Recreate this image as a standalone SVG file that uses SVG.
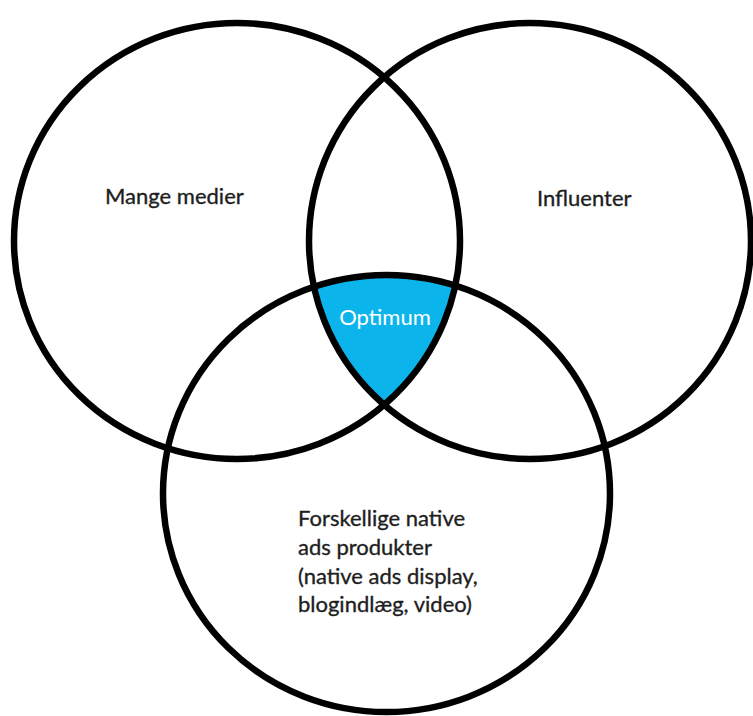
<svg xmlns="http://www.w3.org/2000/svg" width="753" height="716" viewBox="0 0 753 716">
<style>
.c{fill:none;stroke:#000;stroke-width:6.5}
.t{font-family:Lato,"Open Sans","Liberation Sans",sans-serif;font-size:22px;fill:#1e1e1e;stroke:#1e1e1e;stroke-width:0.35}
.w{font-family:Lato,"Open Sans","Liberation Sans",sans-serif;font-size:22px;fill:#fff}
</style>
<defs>
<clipPath id="cl"><ellipse cx="237" cy="241" rx="223" ry="218"/></clipPath>
<clipPath id="cr"><ellipse cx="530" cy="241" rx="221" ry="218"/></clipPath>
</defs>
<rect width="753" height="716" fill="#fff"/>
<g id="optimum">
<g clip-path="url(#cl)"><g clip-path="url(#cr)"><ellipse cx="386.5" cy="493.5" rx="223.5" ry="218.5" fill="#0BB5EC"/></g></g>
<text class="w" x="385" y="325" text-anchor="middle">Optimum</text>
</g>
<g id="left">
<ellipse class="c" cx="237" cy="241" rx="223" ry="218"/>
<text class="t" x="105" y="204">Mange medier</text>
</g>
<g id="right">
<ellipse class="c" cx="530" cy="241" rx="221" ry="218"/>
<text class="t" x="537" y="206">Influenter</text>
</g>
<g id="bottom">
<ellipse class="c" cx="386.5" cy="493.5" rx="223.5" ry="218.5"/>
<text class="t" x="298"><tspan x="298" y="526">Forskellige native</tspan><tspan x="298" y="555">ads produkter</tspan><tspan x="298" y="584">(native ads display,</tspan><tspan x="298" y="612">blogindlæg, video)</tspan></text>
</g>
<g id="connectors"/>
</svg>
